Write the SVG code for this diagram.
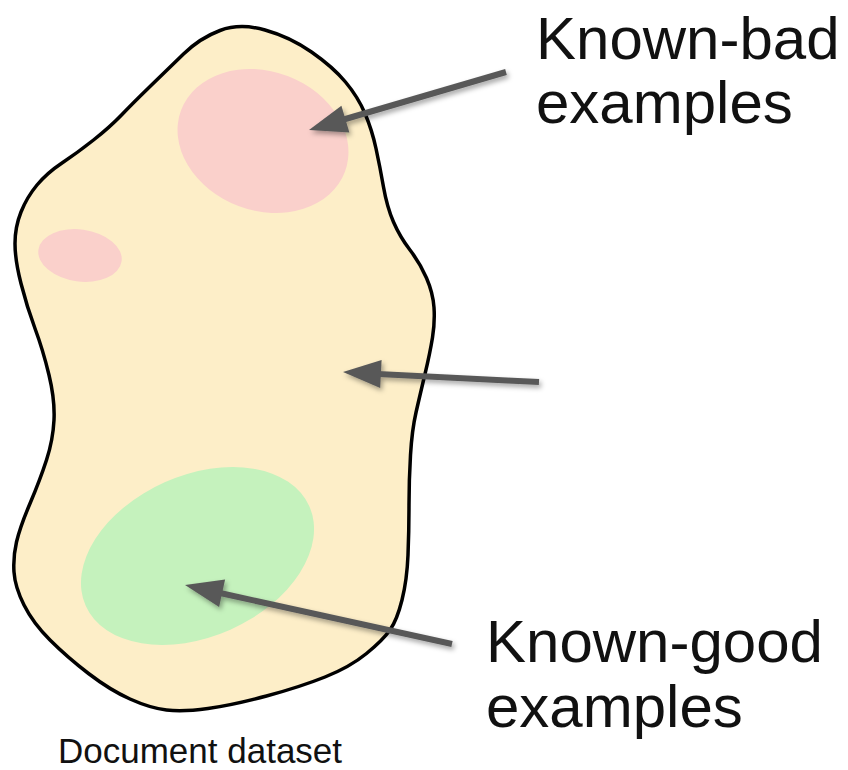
<svg xmlns="http://www.w3.org/2000/svg" width="848" height="770" viewBox="0 0 848 770">
  <style>
    .lbl { font-family: "Liberation Sans", Arial, sans-serif; fill: #111111; }
    .big { font-size: 60px; }
    .cap { font-size: 35px; }
    .arrow-line { stroke: #595959; stroke-width: 6; stroke-linecap: butt; fill: none; }
    .arrow-head { fill: #595959; }
  </style>
  <defs>
    <filter id="shadow" x="-20%" y="-50%" width="140%" height="200%">
      <feDropShadow dx="2" dy="3" stdDeviation="2.5" flood-color="#000000" flood-opacity="0.35"/>
    </filter>
  </defs>
  <rect width="848" height="770" fill="#ffffff"/>

  <g id="dataset">
    <path id="blob" fill="#FDEEC8" stroke="#000000" stroke-width="3.5" stroke-linejoin="round"
      d="M220,30.5 Q240,23 265,30 Q290,37 311.5,52 Q333,67 345.5,82 Q358,97 365,113.5 Q372,130 376,148.5 Q380,167 383.5,187 Q387,207 393.5,222 Q400,237 410,250 Q420,263 426.5,278 Q433,293 434,307.5 Q435,322 432.5,337.5 Q430,353 425,374 Q420,395 416,412.5 Q412,430 410.5,455 Q409,480 409,505 Q409,530 408,555 Q407,580 402,600 Q397,620 390,630 Q383,640 366.5,653.5 Q350,667 325,677 Q300,687 266.5,696 Q233,705 208,708.5 Q183,712 166.5,710 Q150,708 130,699 Q110,690 88.5,673.5 Q67,657 50,640 Q33,623 24,605 Q15,587 14,572 Q13,557 16.5,542 Q20,527 30,503.5 Q40,480 46.5,460 Q53,440 54,420 Q55,400 49,375 Q43,350 35,328.5 Q27,307 21,283.5 Q15,260 15,243.5 Q15,227 21,212 Q27,197 37,185 Q47,173 62,163 Q77,153 93.5,140 Q110,127 121.5,115 Q133,103 150,86.5 Q167,70 183.5,54 Q200,38 220,30.5 Z"/>
    <text class="lbl cap" x="58" y="763">Document dataset</text>
  </g>

  <g id="known-bad-region">
    <ellipse cx="263" cy="141" rx="87.5" ry="69.5" fill="#FAD0CB" transform="rotate(20.7 263 141)"/>
  </g>
  <g id="small-bad-region">
    <ellipse cx="80" cy="255.5" rx="42" ry="26" fill="#FAD0CB" transform="rotate(8 80 255.5)"/>
  </g>
  <g id="known-good-region">
    <ellipse cx="197.5" cy="556" rx="122.4" ry="80.7" fill="#C5F2BD" transform="rotate(-24 197.5 556)"/>
  </g>

  <g id="label-bad">
    <text class="lbl big" x="536" y="59">Known-bad</text>
    <text class="lbl big" x="536" y="123">examples</text>
  </g>
  <g id="label-good">
    <text class="lbl big" x="486" y="662">Known-good</text>
    <text class="lbl big" x="486" y="727">examples</text>
  </g>

  <g id="connectors" filter="url(#shadow)">
    <g id="arrow-bad">
      <line class="arrow-line" x1="506" y1="72" x2="342" y2="120"/>
      <polygon class="arrow-head" points="309,130 341.4,105.8 349.4,132.6"/>
    </g>
    <g id="arrow-middle">
      <line class="arrow-line" x1="539" y1="382" x2="378" y2="374"/>
      <polygon class="arrow-head" points="343,372 381.6,359.9 380.2,387.9"/>
    </g>
    <g id="arrow-good">
      <line class="arrow-line" x1="452" y1="644" x2="220" y2="593"/>
      <polygon class="arrow-head" points="185,585 225.1,579.5 219.1,606.9"/>
    </g>
  </g>
</svg>
